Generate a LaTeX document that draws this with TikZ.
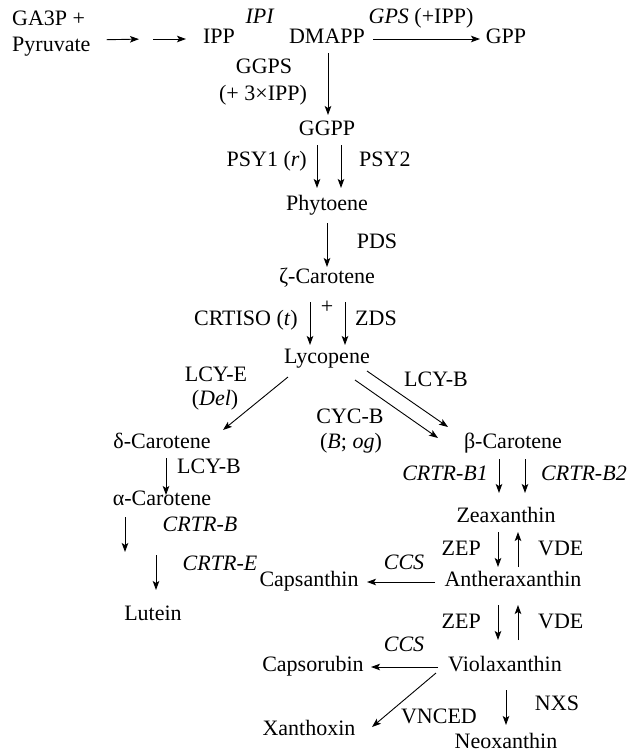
\documentclass[tikz,border=0pt]{standalone}
\usepackage{fontspec}
\setmainfont{Liberation Serif}
\usetikzlibrary{arrows.meta}
\begin{document}
\begin{tikzpicture}[x=1pt,y=-1pt,
  lbl/.style={inner sep=0pt, text height=0.9em, text depth=0.25em, font=\fontsize{22}{26}\selectfont},
  arr/.style={-{Stealth[length=9pt,width=6.5pt,inset=2pt]}, line width=0.9pt}]
\useasboundingbox (0,0) rectangle (633,756);
% nodes
\node[lbl, anchor=west] (ga3p) at (12,22) {GA3P +};
\node[lbl, anchor=west] (pyr) at (12,48) {Pyruvate};
\node[lbl] (ipp) at (219,40) {IPP};
\node[lbl] (ipi) at (260,20) {\textit{IPI}};
\node[lbl] (dmapp) at (327,40) {DMAPP};
\node[lbl] (gps) at (421,20) {\textit{GPS} (+IPP)};
\node[lbl] (gpp) at (506,40) {GPP};
\node[lbl] (ggps) at (264,70) {GGPS};
\node[lbl] (ggpsb) at (263,97) {(+ 3×IPP)};
\node[lbl] (ggpp) at (327,132) {GGPP};
\node[lbl, anchor=east] (psy1) at (307,163) {PSY1 (\textit{r})};
\node[lbl, anchor=west] (psy2) at (359,163) {PSY2};
\node[lbl] (phyto) at (327,207) {Phytoene};
\node[lbl] (pds) at (377,245) {PDS};
\node[lbl] (zeta) at (327,280) {ζ-Carotene};
\node[lbl] (plus) at (327,310) {+};
\node[lbl, anchor=east] (crtiso) at (298,322) {CRTISO (\textit{t})};
\node[lbl, anchor=west] (zds) at (355,322) {ZDS};
\node[lbl] (lyc) at (327,360) {Lycopene};
\node[lbl] (lcye) at (216,378) {LCY-E};
\node[lbl] (del) at (215,402) {(\textit{Del})};
\node[lbl] (lcyb) at (436,383) {LCY-B};
\node[lbl] (cycb) at (350,420) {CYC-B};
\node[lbl] (bog) at (351,445) {(\textit{B}; \textit{og})};
\node[lbl] (delta) at (162,445) {δ-Carotene};
\node[lbl] (beta) at (513,445) {β-Carotene};
\node[lbl, anchor=west] (lcyb2) at (177,470) {LCY-B};
\node[lbl] (alpha) at (162,502) {α-Carotene};
\node[lbl] (crtrb) at (200,528) {\textit{CRTR-B}};
\node[lbl] (crtre) at (220,567) {\textit{CRTR-E}};
\node[lbl] (lutein) at (153,617) {Lutein};
\node[lbl, anchor=east] (crtrb1) at (488,477) {\textit{CRTR-B1}};
\node[lbl, anchor=west] (crtrb2) at (541,477) {\textit{CRTR-B2}};
\node[lbl] (zea) at (506,519) {Zeaxanthin};
\node[lbl, anchor=east] (zep1) at (481,552) {ZEP};
\node[lbl, anchor=west] (vde1) at (538,552) {VDE};
\node[lbl] (ccs1) at (404,566) {\textit{CCS}};
\node[lbl] (anthera) at (513,583) {Antheraxanthin};
\node[lbl] (capsan) at (309,583) {Capsanthin};
\node[lbl, anchor=east] (zep2) at (481,625) {ZEP};
\node[lbl, anchor=west] (vde2) at (538,625) {VDE};
\node[lbl] (ccs2) at (404,648) {\textit{CCS}};
\node[lbl] (viola) at (505,668) {Violaxanthin};
\node[lbl] (capsor) at (313,668) {Capsorubin};
\node[lbl] (vnced) at (439,720) {VNCED};
\node[lbl] (xanth) at (309,732) {Xanthoxin};
\node[lbl] (nxs) at (557,707) {NXS};
\node[lbl] (neo) at (506,745) {Neoxanthin};
% free ends
\coordinate (m1) at (146,39);
\coordinate (m2) at (125,552);
\coordinate (m3) at (156,555);
% arrows
\draw[arr, shorten <=16pt, shorten >=7pt] (pyr.east |- ipp.center) -- (m1);
\draw[arr, shorten <=7pt] (m1) -- ([shift={(-33,-1)}]ipp.center);
\draw[arr] ([shift={(46,-1)}]dmapp.center) -- ([shift={(-26,-1)}]gpp.center);
\draw[arr] ([shift={(1,13)}]dmapp.center) -- ([shift={(1,-17)}]ggpp.center);
\draw[arr] ([shift={(-10,13)}]ggpp.center) -- ([shift={(-10,-19)}]phyto.center);
\draw[arr] ([shift={(14,13)}]ggpp.center) -- ([shift={(14,-19)}]phyto.center);
\draw[arr] ([shift={(0,16)}]phyto.center) -- ([shift={(0,-13)}]zeta.center);
\draw[arr] ([shift={(-17,22)}]zeta.center) -- ([shift={(-17,-15)}]lyc.center);
\draw[arr] ([shift={(18,22)}]zeta.center) -- ([shift={(18,-15)}]lyc.center);
\draw[arr] ([shift={(-39,17)}]lyc.center) -- ([shift={(61,-15)}]delta.center);
\draw[arr] ([shift={(28,20)}]lyc.center) -- ([shift={(-75,-7)}]beta.center);
\draw[arr] ([shift={(40,11)}]lyc.center) -- ([shift={(-65,-18)}]beta.center);
\draw[arr] ([shift={(4,13)}]delta.center) -- ([shift={(4,-7)}]alpha.center);
\draw[arr] ([shift={(-37,15)}]alpha.center) -- (m2);
\draw[arr] (m3) -- ([shift={(3,-27)}]lutein.center);
\draw[arr] ([shift={(-14,14)}]beta.center) -- ([shift={(-7,-26)}]zea.center);
\draw[arr] ([shift={(12,14)}]beta.center) -- ([shift={(19,-26)}]zea.center);
\draw[arr] ([shift={(-8,13)}]zea.center) -- ([shift={(-15,-16)}]anthera.center);
\draw[arr] ([shift={(5,-16)}]anthera.center) -- ([shift={(12,13)}]zea.center);
\draw[arr] ([shift={(-78,-1)}]anthera.center) -- ([shift={(58,-1)}]capsan.center);
\draw[arr] ([shift={(-15,22)}]anthera.center) -- ([shift={(-7,-28)}]viola.center);
\draw[arr] ([shift={(13,-28)}]viola.center) -- ([shift={(5,22)}]anthera.center);
\draw[arr] ([shift={(-67,-1)}]viola.center) -- ([shift={(58,-1)}]capsor.center);
\draw[arr] ([shift={(-69,5)}]viola.center) -- ([shift={(63,-5)}]xanth.center);
\draw[arr] ([shift={(1,22)}]viola.center) -- ([shift={(0,-20)}]neo.center);
\end{tikzpicture}
\end{document}
